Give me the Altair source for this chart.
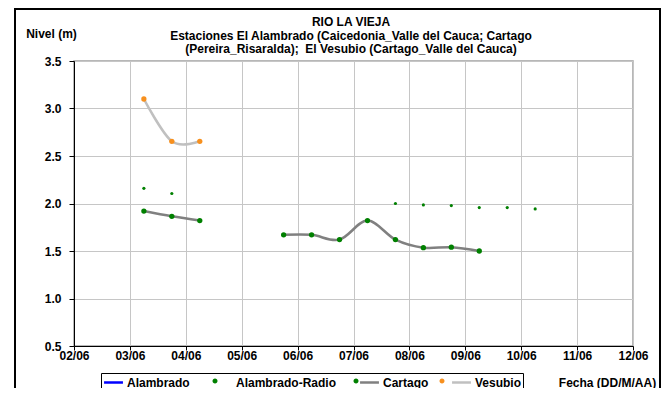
import altair as alt
import pandas as pd

series_names = ["Alambrado", "Alambrado-Radio", "Cartago", "Vesubio"]
series_line_colors = ["#0000ff", "rgba(0,0,0,0)", "#808080", "#c0c0c0"]
series_dot_colors = ["rgba(0,0,0,0)", "#008000", "#008000", "#f7901e"]

cartago_time = ["2011-06-03T06:00:00Z", "2011-06-03T18:00:00Z", "2011-06-04T06:00:00Z",
                "2011-06-05T18:00:00Z", "2011-06-06T06:00:00Z", "2011-06-06T18:00:00Z",
                "2011-06-07T06:00:00Z", "2011-06-07T18:00:00Z", "2011-06-08T06:00:00Z",
                "2011-06-08T18:00:00Z", "2011-06-09T06:00:00Z"]
cartago_level = [1.92, 1.865, 1.82, 1.67, 1.67, 1.62, 1.82, 1.62, 1.535, 1.54, 1.50]
cartago_segment = ["a", "a", "a", "b", "b", "b", "b", "b", "b", "b", "b"]

vesubio_time = ["2011-06-03T06:00:00Z", "2011-06-03T18:00:00Z", "2011-06-04T06:00:00Z"]
vesubio_level = [3.10, 2.655, 2.655]

radio_time = ["2011-06-03T06:00:00Z", "2011-06-03T18:00:00Z", "2011-06-07T18:00:00Z",
              "2011-06-08T06:00:00Z", "2011-06-08T18:00:00Z", "2011-06-09T06:00:00Z",
              "2011-06-09T18:00:00Z", "2011-06-10T06:00:00Z"]
radio_level = [2.16, 2.105, 2.00, 1.985, 1.978, 1.957, 1.957, 1.943]

day_ticks = list(range(2, 13))
y_ticks = [0.5, 1.0, 1.5, 2.0, 2.5, 3.0, 3.5]

title_lines = ["RIO LA VIEJA",
               "Estaciones El Alambrado (Caicedonia_Valle del Cauca; Cartago",
               "(Pereira_Risaralda); \u00a0El Vesubio (Cartago_Valle del Cauca)"]

# marker legend keys carry an invisible suffix so Vega-Lite keeps the two legends apart
ZW = "\u200b"

line_df = pd.concat([
    pd.DataFrame({"t": cartago_time, "v": cartago_level, "series": "Cartago", "seg": cartago_segment}),
    pd.DataFrame({"t": vesubio_time, "v": vesubio_level, "series": "Vesubio", "seg": "a"}),
], ignore_index=True)
line_df["dot"] = line_df["series"] + ZW
radio_df = pd.DataFrame({"t": radio_time, "v": radio_level, "series": "Alambrado-Radio"})
radio_df["dot"] = radio_df["series"] + ZW

FONT = "Liberation Sans"
FS = 12
W, H = 559, 285


def dt(d):
    return alt.DateTime(year=2011, month=6, date=d, utc=True)


axis_style = dict(labelFont=FONT, labelFontSize=FS, labelFontWeight="bold", labelColor="black",
                  titleFont=FONT, titleFontSize=FS, titleFontWeight="bold", titleColor="black",
                  domainColor="black", tickColor="black", gridColor="#c6c6c6", gridWidth=1)

x_enc = alt.X("t:T",
              scale=alt.Scale(type="utc", domain=[dt(2), dt(12)]),
              axis=alt.Axis(values=[dt(d) for d in day_ticks], format="%d/%m",
                            title="Fecha (DD/M/AA)", titleX=533, titleY=36,
                            titleAlign="center", titleBaseline="middle",
                            tickSize=4, labelPadding=0, labelFlush=False, labelOverlap=False,
                            **axis_style))
y_enc = alt.Y("v:Q",
              scale=alt.Scale(domain=[0.5, 3.5], nice=False, zero=False),
              axis=alt.Axis(values=y_ticks, format=".1f", title="Nivel (m)",
                            titleAngle=0, titleX=-23, titleY=-28,
                            titleAlign="center", titleBaseline="middle",
                            tickSize=5, labelPadding=8, **axis_style))

LEG_X, LEG_Y = 27, 312
legend_common = dict(orient="none", legendX=LEG_X, legendY=LEG_Y, direction="horizontal",
                     columns=4, title=None, gridAlign="none", columnPadding=18,
                     symbolSize=196, symbolOffset=3, labelOffset=5, padding=1,
                     labelFont=FONT, labelFontSize=FS, labelFontWeight="bold",
                     labelColor="black", labelLimit=200)

stroke_scale = alt.Scale(domain=series_names, range=series_line_colors)
fill_scale = alt.Scale(domain=[s + ZW for s in series_names], range=series_dot_colors)

lines = alt.Chart(line_df).mark_line(interpolate="cardinal", strokeWidth=2.5).encode(
    x=x_enc, y=y_enc,
    stroke=alt.Stroke("series:N", scale=stroke_scale,
                      legend=alt.Legend(symbolType="M-1.35,0H1.35", symbolStrokeWidth=2.5,
                                        symbolFillColor="transparent",
                                        strokeColor="black", **legend_common)),
    detail="seg:N",
)

dot_legend = alt.Legend(
    symbolType="M-0.36,0A0.36,0.36 0 1,0 0.36,0A0.36,0.36 0 1,0 -0.36,0Z",
    symbolStrokeWidth=0, labelOpacity=0, **legend_common)

markers = alt.Chart(line_df).mark_circle(size=28, opacity=1).encode(
    x=x_enc, y=y_enc,
    fill=alt.Fill("dot:N", scale=fill_scale, legend=dot_legend),
)

radio = alt.Chart(radio_df).mark_circle(size=10, opacity=1).encode(
    x=x_enc, y=y_enc,
    fill=alt.Fill("dot:N", scale=fill_scale, legend=dot_legend),
)

title = alt.Chart(alt.Data(values=[{"k": 1}])).mark_text(
    text=title_lines, font=FONT, fontSize=FS, fontWeight="bold", color="black",
    align="center", baseline="top", lineHeight=13.5,
).encode(x=alt.value(277), y=alt.value(-44))

frame = alt.Chart(alt.Data(values=[{"k": 1}])).mark_rect(
    fill="transparent", stroke="black", strokeWidth=2, clip=False
).encode(x=alt.value(-59), x2=alt.value(586), y=alt.value(-52), y2=alt.value(340))

chart = alt.layer(lines, markers, radio, title, frame).properties(
    width=W, height=H,
    autosize=alt.AutoSizeParams(type="none"),
    padding={"left": 66, "top": 53, "right": 28, "bottom": 42},
    background="white",
).configure_view(stroke="#a0a0a0", strokeWidth=1.5)

chart.save("out.html", embed_options={"renderer": "svg", "actions": False})
